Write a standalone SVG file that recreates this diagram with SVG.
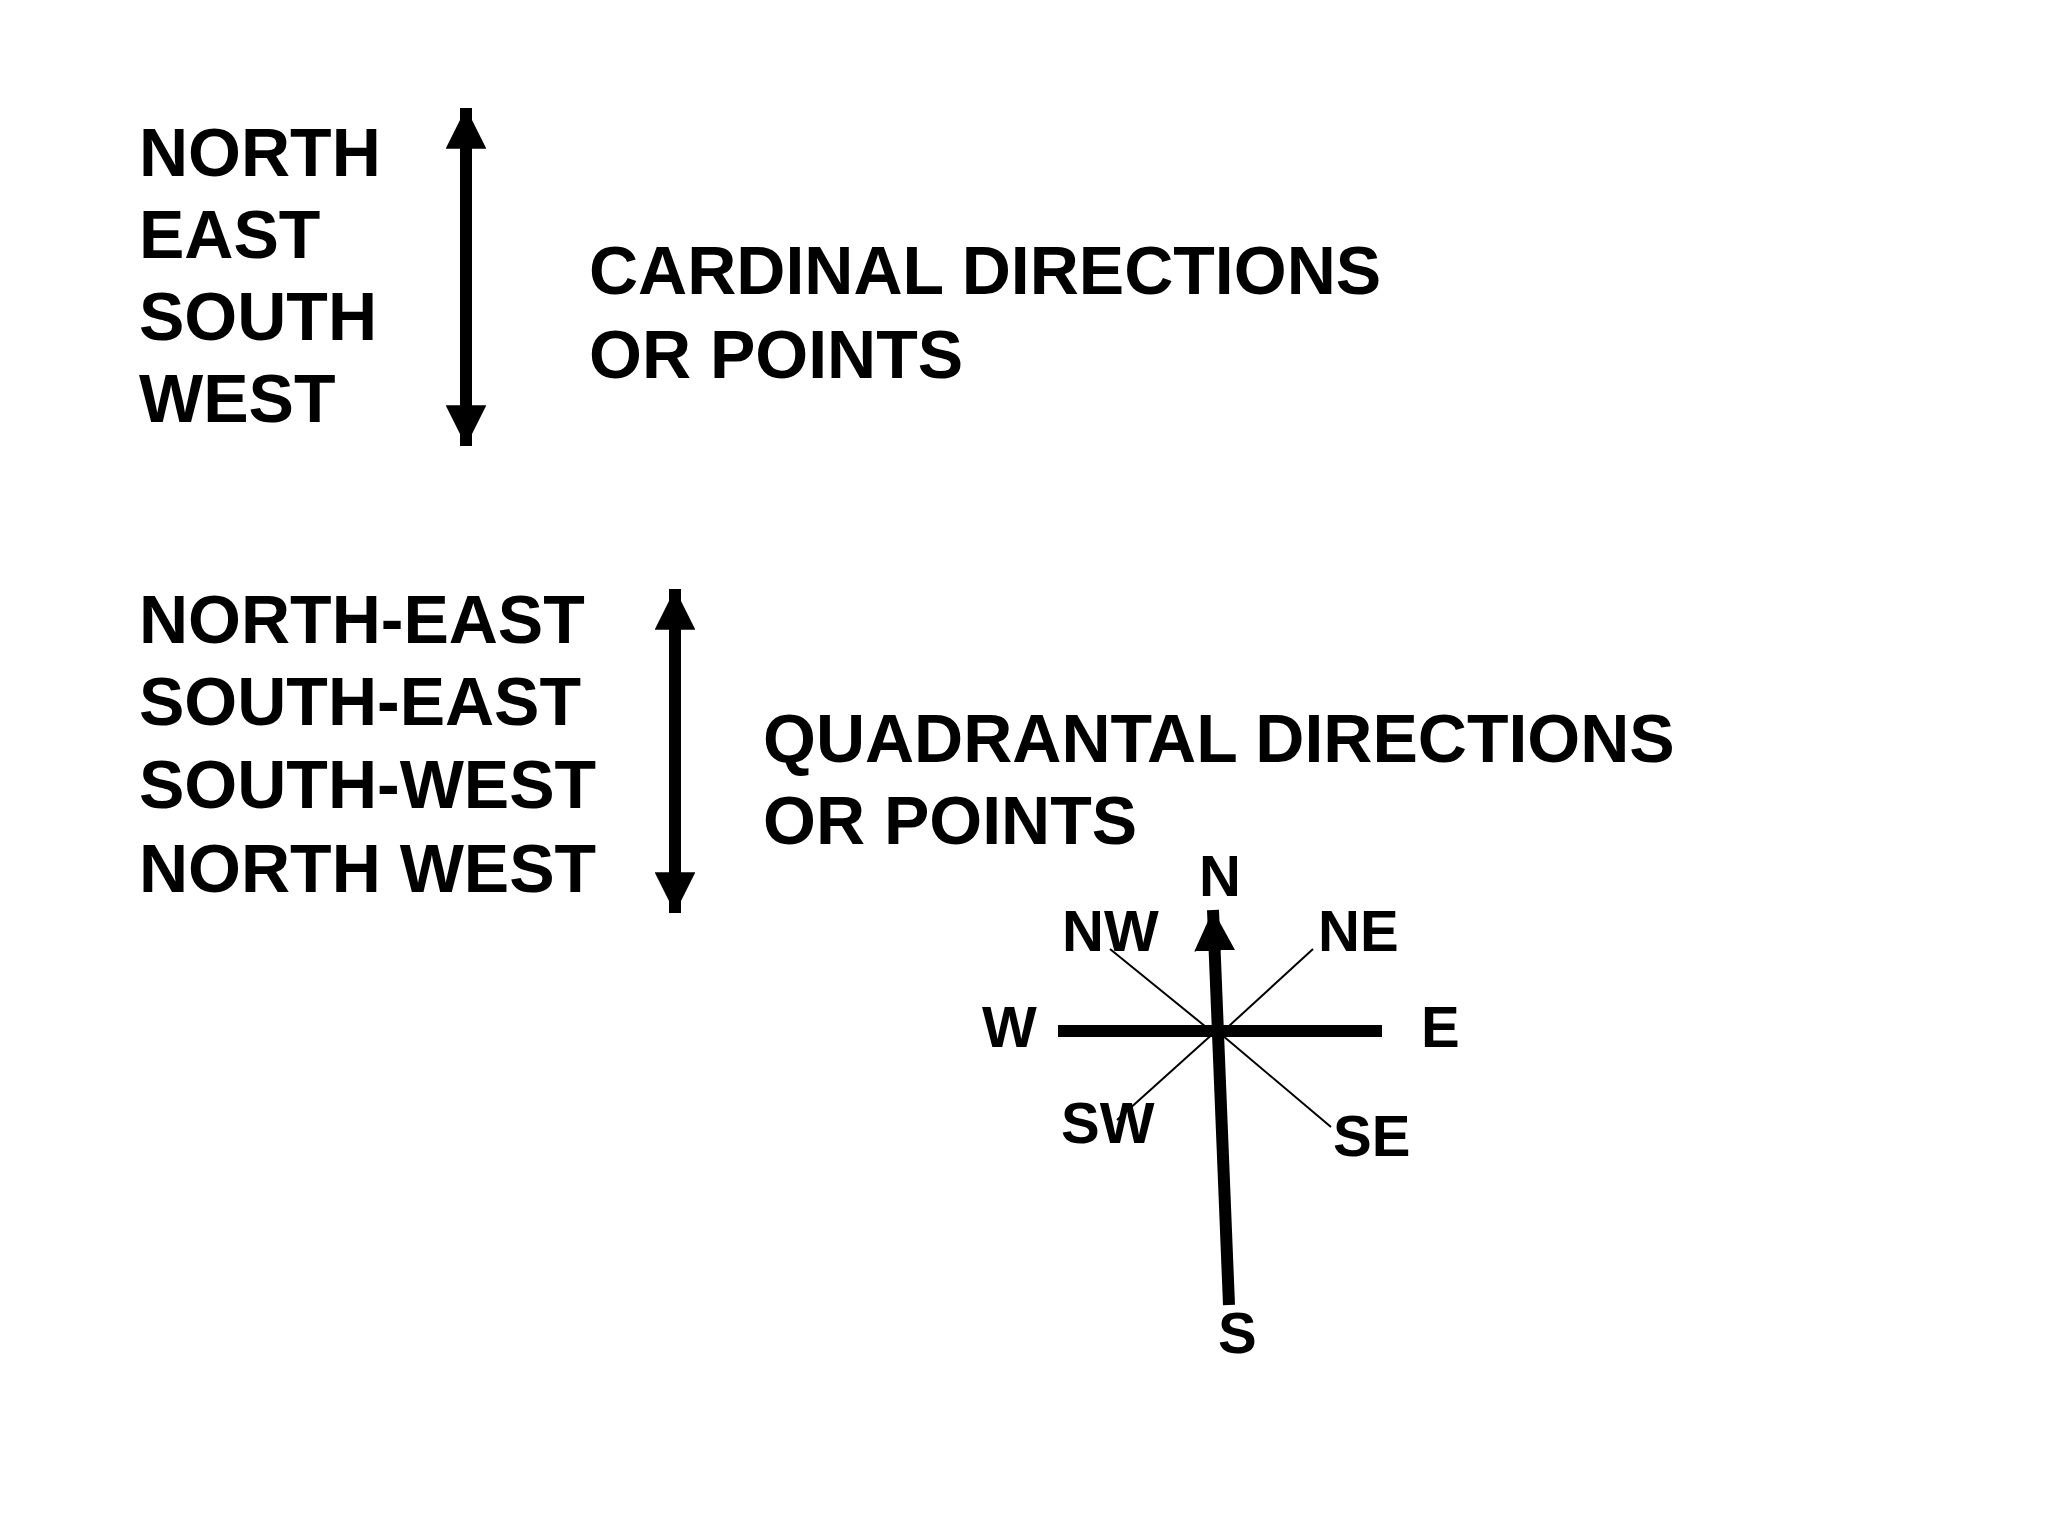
<svg xmlns="http://www.w3.org/2000/svg" width="2048" height="1536" viewBox="0 0 2048 1536">
<style>
text{font-family:"Liberation Sans",Arial,sans-serif;font-weight:bold;fill:#000}
.t{font-size:68px}
.c{font-size:58px}
.thick{stroke:#000;stroke-width:12;fill:none}
.thin{stroke:#000;stroke-width:2;fill:none}
</style>
<defs>
<marker id="ah" viewBox="0 0 10 10" refX="10" refY="5" markerWidth="3.4" markerHeight="3.4" orient="auto-start-reverse" markerUnits="strokeWidth"><path d="M0,0L10,5L0,10z" fill="#000"/></marker>
</defs>
<rect width="2048" height="1536" fill="#fff"/>
<g id="cardinal-list"><text class="t" x="139" y="176">NORTH</text><text class="t" x="139" y="258">EAST</text><text class="t" x="139" y="340">SOUTH</text><text class="t" x="139" y="422">WEST</text></g>
<g id="cardinal-label"><text class="t" x="589" y="294">CARDINAL DIRECTIONS</text><text class="t" x="589" y="378">OR POINTS</text></g>
<g id="quad-list"><text class="t" x="139" y="643">NORTH-EAST</text><text class="t" x="139" y="725">SOUTH-EAST</text><text class="t" x="139" y="808">SOUTH-WEST</text><text class="t" x="139" y="892">NORTH WEST</text></g>
<g id="quad-label"><text class="t" x="763" y="762">QUADRANTAL DIRECTIONS</text><text class="t" x="763" y="844">OR POINTS</text></g>
<g id="connectors">
<line class="thick" x1="466" y1="108" x2="466" y2="446" marker-start="url(#ah)" marker-end="url(#ah)"/>
<line class="thick" x1="675" y1="589" x2="675" y2="913" marker-start="url(#ah)" marker-end="url(#ah)"/>
<line class="thick" x1="1058" y1="1031" x2="1382" y2="1031"/>
<line class="thick" x1="1229" y1="1305" x2="1213" y2="910" marker-end="url(#ah)"/>
<line class="thin" x1="1110" y1="949" x2="1222" y2="1040"/>
<line class="thin" x1="1313" y1="949" x2="1217" y2="1037"/>
<line class="thin" x1="1117" y1="1120" x2="1217" y2="1030"/>
<line class="thin" x1="1331" y1="1127" x2="1222" y2="1035"/>
</g>
<g id="compass-labels">
<text class="c" x="1199" y="896">N</text><text class="c" x="1062" y="951">NW</text><text class="c" x="1318" y="951">NE</text>
<text class="c" x="982" y="1047">W</text><text class="c" x="1421" y="1047">E</text>
<text class="c" x="1061" y="1143">SW</text><text class="c" x="1333" y="1156">SE</text><text class="c" x="1218" y="1353">S</text>
</g>
</svg>
